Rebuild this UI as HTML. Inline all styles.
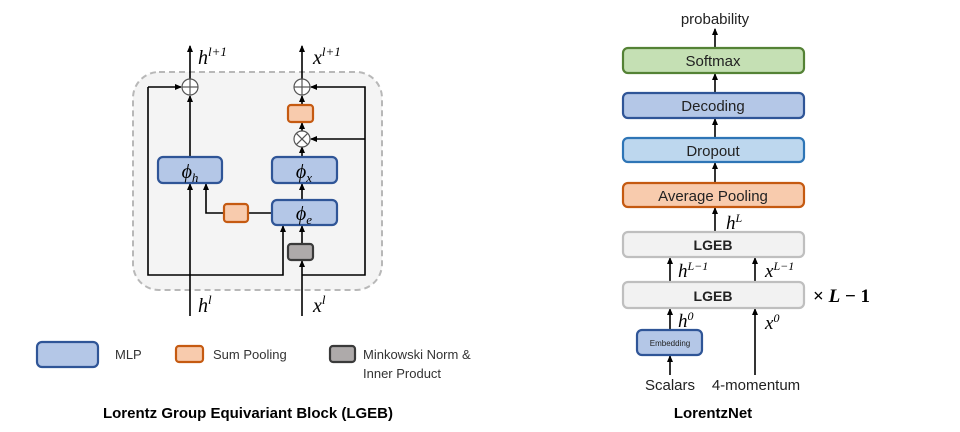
<!DOCTYPE html>
<html><head><meta charset="utf-8"><style>
html,body{margin:0;padding:0;background:#fff;}
svg{display:block;font-family:"Liberation Sans",sans-serif;}
.m{font-family:"Liberation Serif",serif;font-style:italic;}
</style></head><body>
<svg width="960" height="432" viewBox="0 0 960 432" xmlns="http://www.w3.org/2000/svg">
<defs>
<marker id="a" markerWidth="8" markerHeight="8" refX="6" refY="3" orient="auto" markerUnits="userSpaceOnUse"><path d="M0,0 L7,3 L0,6 z" fill="#000"/></marker>
</defs>
<rect x="133" y="72" width="249" height="218" rx="26" fill="#f4f4f4" stroke="#b8b8b8" stroke-width="2" stroke-dasharray="6,4"/>
<g stroke="#000" stroke-width="1.6" fill="none">
<line x1="190" y1="79" x2="190" y2="46" marker-end="url(#a)"/>
<line x1="302" y1="79" x2="302" y2="46" marker-end="url(#a)"/>
<line x1="190" y1="157" x2="190" y2="96" marker-end="url(#a)"/>
<line x1="190" y1="316" x2="190" y2="184" marker-end="url(#a)"/>
<line x1="302" y1="316" x2="302" y2="261" marker-end="url(#a)"/>
<line x1="302" y1="244" x2="302" y2="226" marker-end="url(#a)"/>
<line x1="302" y1="200" x2="302" y2="184" marker-end="url(#a)"/>
<line x1="302" y1="157" x2="302" y2="147" marker-end="url(#a)"/>
<line x1="302" y1="131" x2="302" y2="123" marker-end="url(#a)"/>
<line x1="302" y1="105" x2="302" y2="96" marker-end="url(#a)"/>
<polyline points="148,87 148,275 283,275 283,226" marker-end="url(#a)"/>
<line x1="148" y1="87" x2="181" y2="87" marker-end="url(#a)"/>
<polyline points="302,275 365,275 365,87 311,87" marker-end="url(#a)"/>
<line x1="365" y1="139" x2="311" y2="139" marker-end="url(#a)"/>
<line x1="272" y1="213" x2="248" y2="213"/>
<polyline points="224,213 206,213 206,184" marker-end="url(#a)"/>
</g>
<g stroke="#555" stroke-width="1.2" fill="#fff">
<circle cx="190" cy="87" r="8"/><line x1="182" y1="87" x2="198" y2="87"/><line x1="190" y1="79" x2="190" y2="95"/>
<circle cx="302" cy="87" r="8"/><line x1="294" y1="87" x2="310" y2="87"/><line x1="302" y1="79" x2="302" y2="95"/>
<circle cx="302" cy="139" r="8"/><line x1="296.3" y1="133.3" x2="307.7" y2="144.7"/><line x1="307.7" y1="133.3" x2="296.3" y2="144.7"/>
</g>
<g stroke-width="2.2">
<rect x="158" y="157" width="64" height="26" rx="5" fill="#b4c7e7" stroke="#2f5597"/>
<rect x="272" y="157" width="65" height="26" rx="5" fill="#b4c7e7" stroke="#2f5597"/>
<rect x="272" y="200" width="65" height="25" rx="5" fill="#b4c7e7" stroke="#2f5597"/>
<rect x="288" y="105" width="25" height="17" rx="3" fill="#f8cbad" stroke="#c55a11"/>
<rect x="224" y="204" width="24" height="18" rx="3" fill="#f8cbad" stroke="#c55a11"/>
<rect x="288" y="244" width="25" height="16" rx="3" fill="#aeaaaa" stroke="#3a3a3a"/>
</g>
<g class="m" font-size="20" fill="#000">
<text x="190" y="178" text-anchor="middle">ϕ<tspan font-size="13" dy="4">h</tspan></text>
<text x="304" y="178" text-anchor="middle">ϕ<tspan font-size="13" dy="4">x</tspan></text>
<text x="304" y="220" text-anchor="middle">ϕ<tspan font-size="13" dy="4">e</tspan></text>
<text x="198" y="64">h<tspan font-size="13" dy="-8">l+1</tspan></text>
<text x="313" y="64">x<tspan font-size="13" dy="-8">l+1</tspan></text>
<text x="198" y="312">h<tspan font-size="13" dy="-8">l</tspan></text>
<text x="313" y="312">x<tspan font-size="13" dy="-8">l</tspan></text>
</g>
<rect x="37" y="342" width="61" height="25" rx="5" fill="#b4c7e7" stroke="#2f5597" stroke-width="2.2"/>
<text x="115" y="359" font-size="13" fill="#333">MLP</text>
<rect x="176" y="346" width="27" height="16" rx="3" fill="#f8cbad" stroke="#c55a11" stroke-width="2.2"/>
<text x="213" y="359" font-size="13" fill="#333">Sum Pooling</text>
<rect x="330" y="346" width="25" height="16" rx="3" fill="#aeaaaa" stroke="#3a3a3a" stroke-width="2.2"/>
<text x="363" y="359" font-size="13" fill="#333">Minkowski Norm &amp;</text>
<text x="363" y="378" font-size="13" fill="#333">Inner Product</text>
<text x="248" y="418" font-size="15" font-weight="bold" text-anchor="middle">Lorentz Group Equivariant Block (LGEB)</text>
<text x="713" y="418" font-size="15" font-weight="bold" text-anchor="middle">LorentzNet</text>
<g stroke="#000" stroke-width="1.6" fill="none">
<line x1="715" y1="48" x2="715" y2="29" marker-end="url(#a)"/>
<line x1="715" y1="93" x2="715" y2="74" marker-end="url(#a)"/>
<line x1="715" y1="138" x2="715" y2="119" marker-end="url(#a)"/>
<line x1="715" y1="183" x2="715" y2="163" marker-end="url(#a)"/>
<line x1="715" y1="232" x2="715" y2="208" marker-end="url(#a)"/>
<line x1="670" y1="282" x2="670" y2="258" marker-end="url(#a)"/>
<line x1="755" y1="282" x2="755" y2="258" marker-end="url(#a)"/>
<line x1="670" y1="330" x2="670" y2="309" marker-end="url(#a)"/>
<line x1="755" y1="375" x2="755" y2="309" marker-end="url(#a)"/>
<line x1="670" y1="375" x2="670" y2="356" marker-end="url(#a)"/>
</g>
<text x="715" y="24" font-size="15" text-anchor="middle" fill="#222">probability</text>
<g stroke-width="2.2">
<rect x="623" y="48" width="181" height="25" rx="5" fill="#c5e0b4" stroke="#548235"/>
<rect x="623" y="93" width="181" height="25" rx="5" fill="#b4c7e7" stroke="#2f5597"/>
<rect x="623" y="138" width="181" height="24" rx="5" fill="#bdd7ee" stroke="#2e75b6"/>
<rect x="623" y="183" width="181" height="24" rx="5" fill="#f8cbad" stroke="#c55a11"/>
<rect x="623" y="232" width="181" height="25" rx="5" fill="#f2f2f2" stroke="#bfbfbf"/>
<rect x="623" y="282" width="181" height="26" rx="5" fill="#f2f2f2" stroke="#bfbfbf"/>
<rect x="637" y="330" width="65" height="25" rx="5" fill="#b4c7e7" stroke="#2f5597"/>
</g>
<g font-size="15" text-anchor="middle" fill="#222">
<text x="713" y="66">Softmax</text>
<text x="713" y="111">Decoding</text>
<text x="713" y="156">Dropout</text>
<text x="713" y="201">Average Pooling</text>
<text x="713" y="250" font-weight="bold" font-size="14">LGEB</text>
<text x="713" y="301" font-weight="bold" font-size="14">LGEB</text>
<text x="670" y="346" font-size="8">Embedding</text>
<text x="670" y="390">Scalars</text>
<text x="756" y="390">4-momentum</text>
</g>
<g class="m" font-size="19" fill="#000">
<text x="726" y="229">h<tspan font-size="12" dy="-7">L</tspan></text>
<text x="678" y="277">h<tspan font-size="12" dy="-7">L−1</tspan></text>
<text x="765" y="277">x<tspan font-size="12" dy="-7">L−1</tspan></text>
<text x="678" y="327">h<tspan font-size="12" dy="-7">0</tspan></text>
<text x="765" y="329">x<tspan font-size="12" dy="-7">0</tspan></text>
<text x="813" y="302" font-weight="bold" font-style="normal">× <tspan font-style="italic">L</tspan> − 1</text>
</g>
</svg>
</body></html>
